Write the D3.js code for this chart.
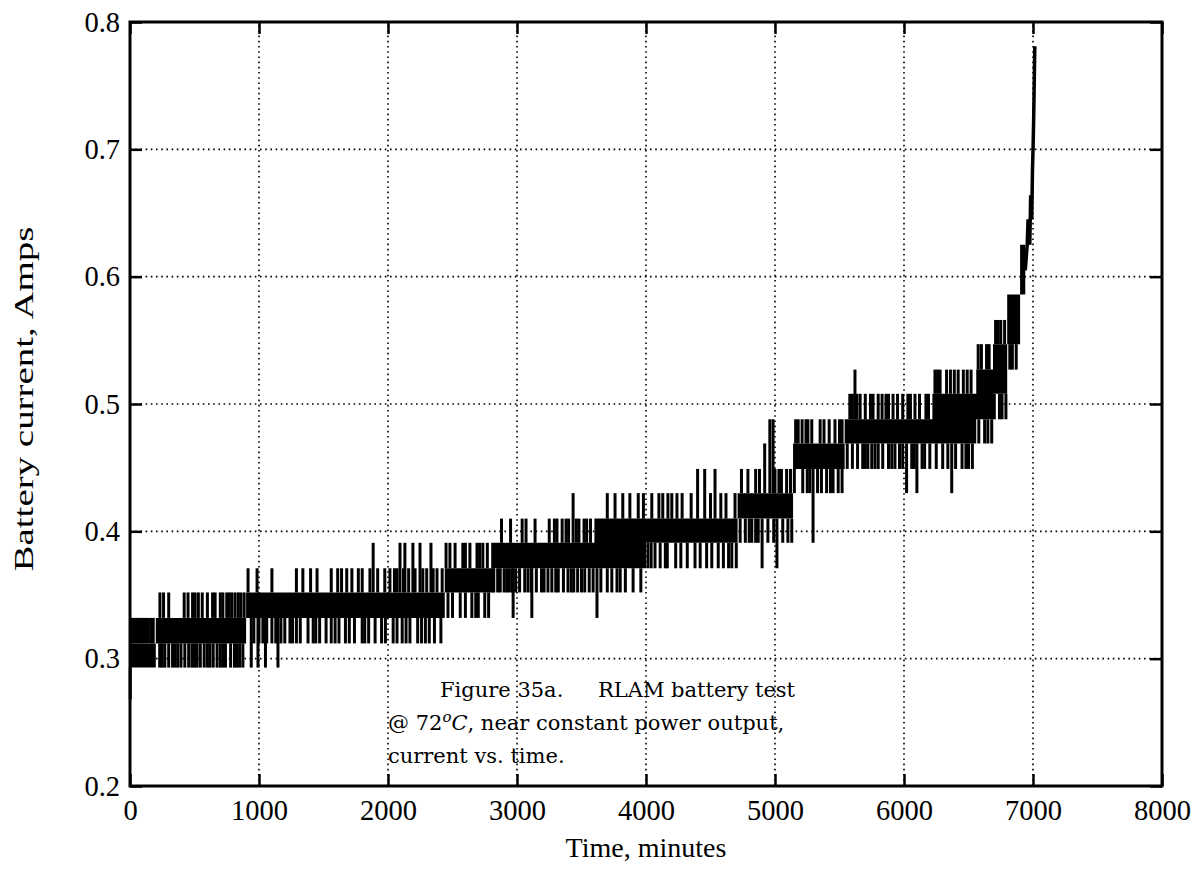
<!DOCTYPE html>
<html>
<head>
<meta charset="utf-8">
<script src="https://cdn.jsdelivr.net/npm/d3@7"></script>
<style>
  body { margin: 0; background: #fff; }
  svg text { font-family: "Liberation Serif", "Times New Roman", serif; fill: #000; }
  .caption text { font-family: "DejaVu Serif", serif; }
</style>
</head>
<body>
<svg width="1195" height="884"></svg>
<script>
var svg = d3.select("svg"),
    width = +svg.attr("width"),
    height = +svg.attr("height");

// axis ticks
var xTicks = [0, 1000, 2000, 3000, 4000, 5000, 6000, 7000, 8000],
    yTicks = [0.2, 0.3, 0.4, 0.5, 0.6, 0.7, 0.8];

// the current toggles between A/D levels: segment start (min), low / high level (A)
var bandT  = [0,     200,   900,   2440,  2800,  3000,  3600,  4000,  4710,  5140,  5540,  6220,  6560,  6690,  6800,  6900],
    bandLo = [0.293, 0.312, 0.332, 0.352, 0.371, 0.371, 0.371, 0.391, 0.410, 0.449, 0.469, 0.469, 0.488, 0.508, 0.547, 0.586],
    bandHi = [0.312, 0.332, 0.352, 0.371, 0.391, 0.391, 0.410, 0.410, 0.430, 0.469, 0.488, 0.508, 0.527, 0.547, 0.586, 0.625],
    bandEnd = 6940;

// single readings outside the band, grouped by the level they reach (A) and their times (min)
var spikeLevel = [0.268, 0.293, 0.312, 0.332, 0.352, 0.371, 0.391, 0.410, 0.430, 0.449, 0.469, 0.488, 0.508, 0.527, 0.547, 0.566];
var spikeTimes = [
  [2],
  [230, 250, 270, 300, 330, 350, 370, 395, 425, 455, 480, 500, 520, 545, 575, 600, 620, 645, 675, 700, 720, 740, 780, 810, 830, 850, 875,
   940, 992, 1050, 1147],
  [960, 1000, 1030, 1060, 1100, 1130, 1170, 1200, 1240, 1260, 1290, 1320, 1380, 1420, 1440, 1470, 1520, 1560, 1590, 1620, 1670, 1700,
   1740, 1800, 1820, 1850, 1900, 1950, 1980, 2040, 2070, 2110, 2140, 2170, 2230, 2260, 2290, 2320, 2360, 2410],
  [10, 25, 40, 55, 70, 85, 100, 120, 140, 160, 180,
   2465, 2500, 2560, 2600, 2650, 2680, 2700, 2750, 2780, 2970, 3115, 3620],
  [232, 260, 300, 420, 450, 485, 505, 530, 560, 600, 640, 660, 700, 720, 750, 770, 790, 815, 840, 860, 885,
   2810, 2820, 2850, 2870, 2900, 2920, 2940, 2960, 2990,
   3020, 3060, 3085, 3110, 3150, 3190, 3210, 3240, 3270, 3300, 3320, 3360, 3395, 3420, 3440, 3470, 3500, 3525, 3560, 3590,
   3650, 3700, 3735, 3775, 3800, 3840, 3900, 3960],
  [915, 985, 1100, 1290, 1340, 1400, 1450, 1560, 1610, 1640, 1680, 1720, 1770, 1800, 1860, 1920, 1975, 2015, 2050, 2070, 2120, 2160,
   2210, 2270, 2300, 2350, 2380, 2420,
   4015, 4040, 4070, 4110, 4150, 4165, 4230, 4270, 4320, 4380, 4420, 4470, 4510, 4560, 4600, 4640, 4665, 4700, 4900, 5015],
  [1885, 2093, 2131, 2193, 2248, 2333, 2450, 2480, 2520, 2580, 2600, 2635, 2690, 2710, 2735, 2770,
   4730, 4770, 4800, 4820, 4850, 4870, 4945, 4990, 5060, 5100, 5130, 5295],
  [2880, 2950, 3040, 3070, 3140, 3250, 3290, 3310, 3350, 3380, 3400, 3460, 3480, 3520, 3540, 3570],
  [3435, 3700, 3760, 3820, 3875, 3940, 3980, 4045, 4100, 4130, 4170, 4200, 4240, 4280, 4350, 4500, 4580, 4620, 4690,
   5150, 5215, 5250, 5270, 5330, 5360, 5400, 5430, 5450, 5490, 5520, 6020, 6100, 6370],
  [4400, 4455, 4535, 4740, 4790, 4850, 4880, 5000, 5030, 5050, 5090, 5120,
   5560, 5600, 5640, 5680, 5700, 5720, 5750, 5775, 5800, 5835, 5880, 5905, 5930, 5965, 5990, 6060, 6080, 6140, 6160, 6200,
   6250, 6300, 6340, 6400, 6450, 6480, 6500, 6530],
  [4920, 6580, 6625, 6650, 6680],
  [4960, 4985, 5160, 5180, 5210, 5240, 5255, 5285, 5350, 5380, 5420, 5465, 5500, 5520, 6700, 6740, 6760, 6790],
  [5580, 5600, 5635, 5660, 5700, 5740, 5760, 5800, 5830, 5860, 5880, 5915, 5950, 5990, 6030, 6050, 6085, 6120, 6170, 6190],
  [5620, 6240, 6260, 6280, 6330, 6360, 6390, 6420, 6460, 6490, 6520, 6820, 6840, 6870],
  [6575, 6600, 6640, 6660],
  [6710, 6730, 6750, 6780]
];

// end of the run, current climbing steadily: time (min), current (A)
var tailT = [6940, 6955, 6962, 6975, 6982, 6990, 6996, 7001, 7005, 7008, 7011, 7014],
    tailV = [0.605, 0.625, 0.645, 0.625, 0.664, 0.645, 0.684, 0.703, 0.723, 0.742, 0.762, 0.781];

var caption = ["Figure 35a.", "RLAM battery test", "current vs. time."];

/***********************************************************************************************/

var x = d3.scaleLinear().domain([0, 8000]).range([130, 1162]),
    y = d3.scaleLinear().domain([0.2, 0.8]).range([786, 22]);

svg.append("rect").attr("width", width).attr("height", height).attr("fill", "#fff");

// dotted grid
var grid = svg.append("g").attr("stroke", "#000").attr("stroke-width", 1.6).attr("stroke-dasharray", "1.6,3.6");
grid.selectAll(".gx").data(xTicks.slice(1, -1)).enter().append("line")
    .attr("x1", d => x(d)).attr("x2", d => x(d)).attr("y1", y(0.2)).attr("y2", y(0.8));
grid.selectAll(".gy").data(yTicks.slice(1, -1)).enter().append("line")
    .attr("x1", x(0)).attr("x2", x(8000)).attr("y1", d => y(d)).attr("y2", d => y(d));

/***********************************************************************************************/

var band = bandT.map((t, i) => ({ t: t, lo: bandLo[i], hi: bandHi[i] }));
band.push({ t: bandEnd, lo: bandLo[bandLo.length - 1], hi: bandHi[bandHi.length - 1] });

svg.append("path").datum(band)
  .attr("d", d3.area().curve(d3.curveStepAfter).x(d => x(d.t)).y0(d => y(d.lo)).y1(d => y(d.hi)))
  .attr("fill", "#000");

// spikes run from the band edge out to the reading
var spikes = [];
spikeLevel.forEach((v, j) => {
  spikeTimes[j].forEach(t => {
    var k = Math.max(0, d3.bisectRight(bandT, t) - 1);
    spikes.push({ t: t, v: v, from: v > bandHi[k] ? bandHi[k] : bandLo[k] });
  });
});
svg.append("g").attr("stroke", "#000").attr("stroke-width", 3)
  .selectAll("line").data(spikes).enter().append("line")
  .attr("x1", d => x(d.t)).attr("x2", d => x(d.t))
  .attr("y1", d => y(d.from)).attr("y2", d => y(d.v));

svg.append("path").datum(tailT.map((t, i) => [t, tailV[i]]))
  .attr("d", d3.line().x(d => x(d[0])).y(d => y(d[1])))
  .attr("fill", "none").attr("stroke", "#000").attr("stroke-width", 3.5);

/***********************************************************************************************/

// axes with inward ticks on all four sides
function styleAxis(g){
  g.select(".domain").remove();
  g.selectAll("line").attr("stroke", "#000").attr("stroke-width", 2.5);
  g.selectAll("text").attr("font-size", 28.5).attr("font-family", "Liberation Serif, serif").attr("fill", "#000");
}
svg.append("g").attr("transform", "translate(0," + y(0.2) + ")")
  .call(d3.axisBottom(x).tickValues(xTicks).tickSize(-12).tickPadding(14).tickFormat(d3.format("d"))).call(styleAxis);
svg.append("g").attr("transform", "translate(0," + y(0.8) + ")")
  .call(d3.axisTop(x).tickValues(xTicks).tickSize(-12).tickFormat("")).call(styleAxis);
svg.append("g").attr("transform", "translate(" + x(0) + ",0)")
  .call(d3.axisLeft(y).tickValues(yTicks).tickSize(-12).tickPadding(10).tickFormat(d3.format(".1f"))).call(styleAxis);
svg.append("g").attr("transform", "translate(" + x(8000) + ",0)")
  .call(d3.axisRight(y).tickValues(yTicks).tickSize(-12).tickFormat("")).call(styleAxis);

svg.append("rect")
  .attr("x", x(0)).attr("y", y(0.8)).attr("width", x(8000) - x(0)).attr("height", y(0.2) - y(0.8))
  .attr("fill", "none").attr("stroke", "#000").attr("stroke-width", 3);

svg.append("text").attr("x", 646).attr("y", 857).attr("text-anchor", "middle").attr("font-size", 28)
  .text("Time, minutes");
svg.append("text").attr("transform", "translate(33,399) rotate(-90)").attr("text-anchor", "middle").attr("font-size", 28)
  .attr("textLength", 345).attr("lengthAdjust", "spacingAndGlyphs")
  .text("Battery current, Amps");

// caption typed inside the plot
var cap = svg.append("g").attr("class", "caption").attr("font-size", 21);
cap.append("text").attr("x", 440).attr("y", 697).text(caption[0]);
cap.append("text").attr("x", 598).attr("y", 697).text(caption[1]);
var l2 = cap.append("text").attr("x", 388).attr("y", 730);
l2.append("tspan").text("@ 72");
l2.append("tspan").attr("font-style", "italic").attr("font-size", 15).attr("dy", -8).text("o");
l2.append("tspan").attr("font-style", "italic").attr("dy", 8).text("C");
l2.append("tspan").text(", near constant power output,");
cap.append("text").attr("x", 388).attr("y", 763).text(caption[2]);
</script>
</body>
</html>
